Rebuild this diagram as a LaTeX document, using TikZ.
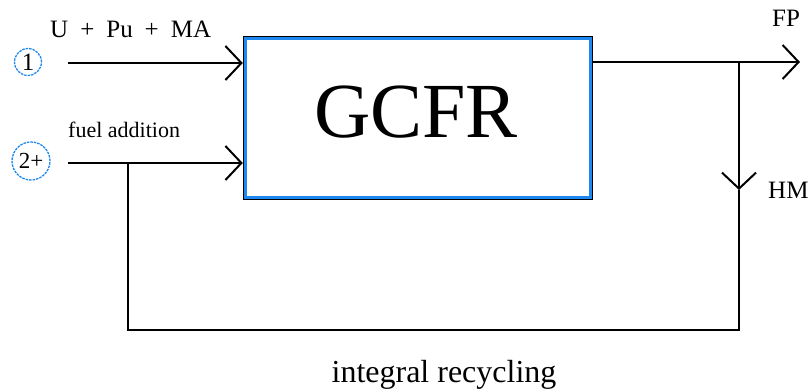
\documentclass[tikz,border=0pt]{standalone}
\usepackage{fontspec}
\setmainfont{Liberation Serif}
\usetikzlibrary{arrows.meta}
\definecolor{frame}{HTML}{1E88F0}
\tikzset{
  line/.style={draw=black, line width=2.6pt},
  flow/.style={line, -{Straight Barb[length=16pt,width=34pt,line width=2pt]}},
  port/.style={circle, draw=frame, line width=1.3pt, dash pattern=on 2.5pt off 1pt, inner sep=0pt},
  lab/.style={text=black, inner sep=0pt, font=\fontsize{25}{28}\selectfont},
  title/.style={text=black, inner sep=0pt, font=\fontsize{78}{90}\selectfont},
}
\begin{document}
\begin{tikzpicture}[x=1pt, y=-1pt]
  \useasboundingbox (0,0) rectangle (812,391);
  % reactor block
  \node[draw=black, line width=2.4pt, minimum width=348pt, minimum height=162pt, inner sep=0pt] (reactor) at (418,118) {};
  \draw[draw=frame, line width=2.8pt] ([shift={(2.6,2.6)}]reactor.north west) rectangle ([shift={(-2.6,-2.6)}]reactor.south east);
  \node[title, anchor=base] (gcfr) at (416,137) {GCFR};
  % feed streams
  \node[port, minimum size=27pt, font=\fontsize{25}{28}\selectfont] (p1) at (28,62) {1};
  \node[port, minimum size=38pt, font=\fontsize{23}{26}\selectfont] (p2) at (31,161) {2+};
  \coordinate (in1) at (68,63);
  \coordinate (in2) at (68,163);
  \draw[flow] (in1) -- (in1 -| reactor.west);
  \draw[flow] (in2) -- (in2 -| reactor.west);
  \node[lab, anchor=base west] (feed) at (50,37) {U\hspace{12pt}+\hspace{12pt}Pu\hspace{12pt}+\hspace{12pt}MA};
  \node[lab, anchor=base west, font=\fontsize{22}{25}\selectfont] (add) at (68,137) {fuel addition};
  % products
  \coordinate (split) at (739,62);
  \coordinate (fp) at (800,62);
  \coordinate (hm) at (739,190);
  \draw[line] (reactor.east |- split) -- (split);
  \draw[flow] (split) -- (fp);
  \draw[flow] (split) -- (hm);
  \node[lab, anchor=base west] (fplab) at (772,26) {FP};
  \node[lab, anchor=base west] (hmlab) at (768,198) {HM};
  % recycling loop
  \coordinate (tap) at (128,163);
  \coordinate (loop) at (739,330);
  \draw[line] (hm) -- (loop) -| (tap);
  \node[lab, anchor=base, font=\fontsize{32}{36}\selectfont] (recy) at (444,382) {integral recycling};
\end{tikzpicture}
\end{document}
